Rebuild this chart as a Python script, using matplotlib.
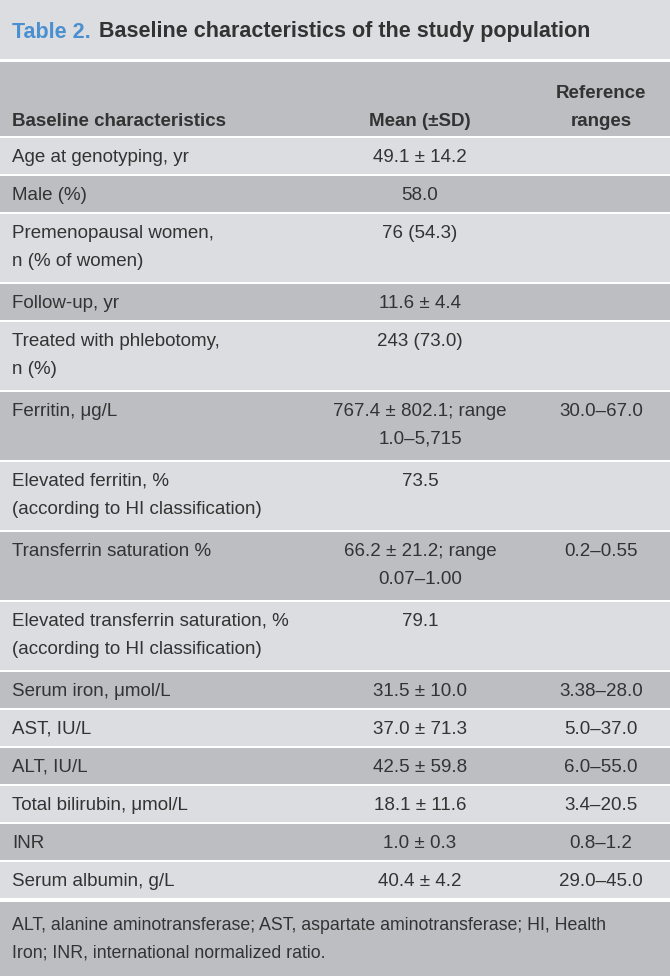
import matplotlib.pyplot as plt
from matplotlib.patches import Rectangle
from matplotlib import font_manager

# ---------------- table content ----------------
title_num = "Table 2."
title_text = "Baseline characteristics of the study population"
header = ["Baseline characteristics", "Mean (\u00b1SD)", "Reference\nranges"]

characteristics = [
    "Age at genotyping, yr",
    "Male (%)",
    "Premenopausal women,\nn (% of women)",
    "Follow-up, yr",
    "Treated with phlebotomy,\nn (%)",
    "Ferritin, \u03bcg/L",
    "Elevated ferritin, %\n(according to HI classification)",
    "Transferrin saturation %",
    "Elevated transferrin saturation, %\n(according to HI classification)",
    "Serum iron, \u03bcmol/L",
    "AST, IU/L",
    "ALT, IU/L",
    "Total bilirubin, \u03bcmol/L",
    "INR",
    "Serum albumin, g/L",
]
means = [
    "49.1 \u00b1 14.2",
    "58.0",
    "76 (54.3)",
    "11.6 \u00b1 4.4",
    "243 (73.0)",
    "767.4 \u00b1 802.1; range\n1.0\u20135,715",
    "73.5",
    "66.2 \u00b1 21.2; range\n0.07\u20131.00",
    "79.1",
    "31.5 \u00b1 10.0",
    "37.0 \u00b1 71.3",
    "42.5 \u00b1 59.8",
    "18.1 \u00b1 11.6",
    "1.0 \u00b1 0.3",
    "40.4 \u00b1 4.2",
]
ref_ranges = [
    "", "", "", "", "",
    "30.0\u201367.0",
    "",
    "0.2\u20130.55",
    "",
    "3.38\u201328.0",
    "5.0\u201337.0",
    "6.0\u201355.0",
    "3.4\u201320.5",
    "0.8\u20131.2",
    "29.0\u201345.0",
]
footnote = ("ALT, alanine aminotransferase; AST, aspartate aminotransferase; HI, Health\n"
            "Iron; INR, international normalized ratio.")

# ---------------- style ----------------
names = {f.name for f in font_manager.fontManager.ttflist}
family = "Liberation Sans Narrow" if "Liberation Sans Narrow" in names else "Liberation Sans"
plt.rcParams["font.family"] = [family, "DejaVu Sans"]

light = "#dcdde0"
dark = "#bdbec2"
txt = "#333333"
blue = "#4a8fd0"
fs = 13.5

W, H = 670, 976
fig = plt.figure(figsize=(W / 100, H / 100), dpi=100)
ax = fig.add_axes([0, 0, 1, 1])
ax.set_xlim(0, W)
ax.set_ylim(H, 0)
ax.axis("off")
fig.patch.set_facecolor("white")

x_left, x_mean, x_ref = 12, 420, 601

# title band
ax.add_patch(Rectangle((0, 0), W, 59, color=light, lw=0))
t1 = ax.text(x_left, 32, title_num, color=blue, fontsize=15.5, fontweight="bold",
             va="center", ha="left")
fig.canvas.draw()
bb = t1.get_window_extent().transformed(ax.transData.inverted())
ax.text(bb.x1 + 8, 32, title_text, color=txt, fontsize=15.5, fontweight="bold",
        va="center", ha="left")

# header band
ax.add_patch(Rectangle((0, 62), W, 74, color=dark, lw=0))
ax.text(x_left, 121, header[0], color=txt, fontsize=fs, fontweight="bold", va="center")
ax.text(x_mean, 121, header[1], color=txt, fontsize=fs, fontweight="bold", va="center", ha="center")
for k, line in enumerate(header[2].split("\n")):
    ax.text(x_ref, 93 + 28 * k, line, color=txt, fontsize=fs, fontweight="bold",
            va="center", ha="center")

# body rows
y = 138
for i, (c, m, r) in enumerate(zip(characteristics, means, ref_ranges)):
    nlines = max(c.count("\n"), m.count("\n")) + 1
    h = 36 if nlines == 1 else 68
    ax.add_patch(Rectangle((0, y), W, h, color=light if i % 2 == 0 else dark, lw=0))
    for col, x, ha in ((c, x_left, "left"), (m, x_mean, "center"), (r, x_ref, "center")):
        for k, line in enumerate(col.split("\n")):
            ax.text(x, y + 19 + 28 * k, line, color=txt, fontsize=fs, va="center", ha=ha)
    y += h + 2

# footnote band
ax.add_patch(Rectangle((0, y + 2), W, H - y - 2, color=dark, lw=0))
for k, line in enumerate(footnote.split("\n")):
    ax.text(x_left, y + 25 + 28 * k, line, color=txt, fontsize=12.8, va="center")

fig.savefig("out.png", dpi=100)
